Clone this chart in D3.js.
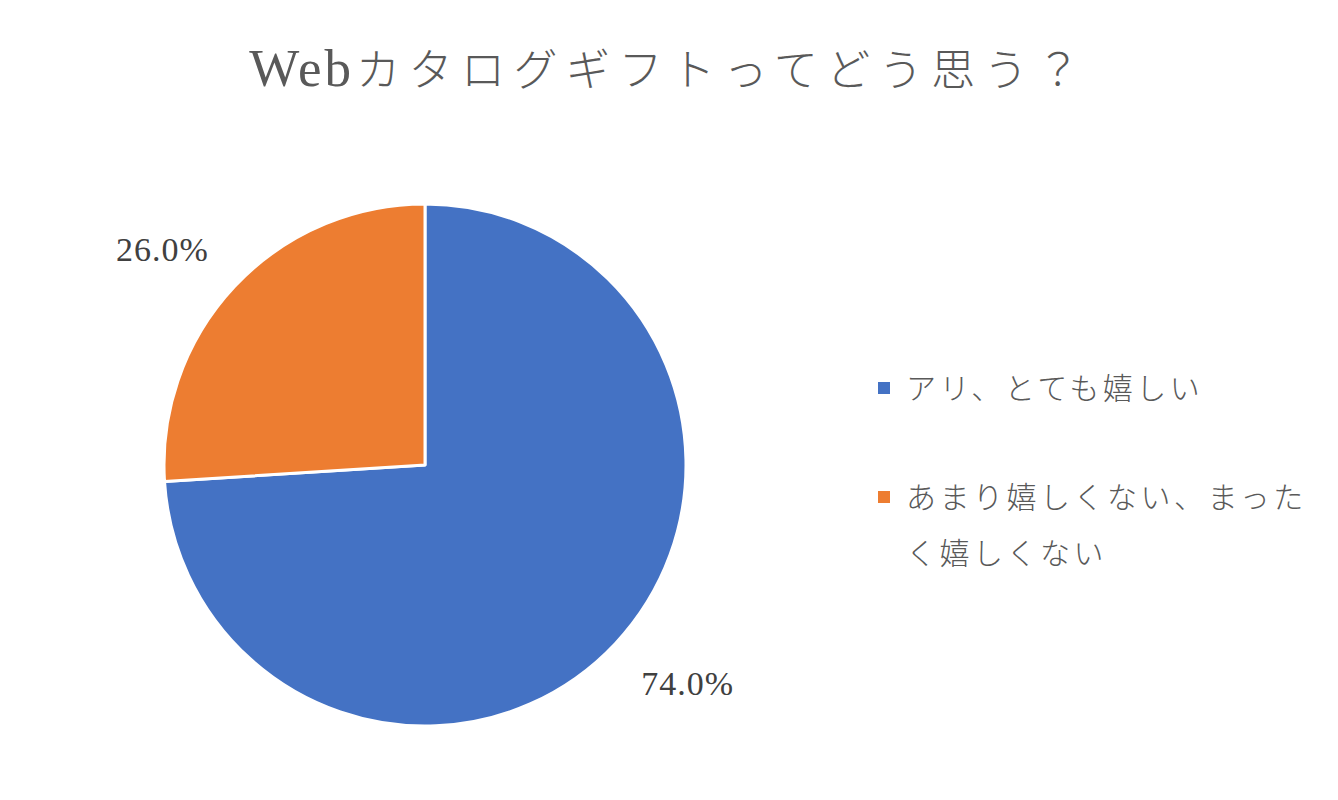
<!DOCTYPE html>
<html><head><meta charset="utf-8">
<script src="https://cdn.jsdelivr.net/npm/d3@7"></script>
<style>body{margin:0;background:#fff}</style>
</head><body>
<svg id="c" width="1338" height="800"></svg>
<script>
const titleLatin = "Web";
const titleJp = "カタログギフトってどう思う？";
const categories = ["アリ、とても嬉しい", "あまり嬉しくない、まったく嬉しくない"];
const legendLines = [["アリ、とても嬉しい"], ["あまり嬉しくない、まった", "く嬉しくない"]];
const values = [74.0, 26.0];
const colors = ["#4472C4", "#ED7D31"];

const svg = d3.select("#c");
svg.append("rect").attr("width",1338).attr("height",800).attr("fill","#fff");
const jp = "'Noto Sans CJK JP', sans-serif";
const serif = "'Liberation Serif', 'DejaVu Serif', serif";

const t = svg.append("text").attr("x",669).attr("y",86).attr("text-anchor","middle").attr("fill","#595959");
t.append("tspan").attr("font-family",serif).attr("font-size",53).attr("letter-spacing",3).text(titleLatin);
t.append("tspan").attr("font-family",jp).attr("font-size",44).attr("font-weight",300)
  .attr("letter-spacing",8.5).attr("dx",2).text(titleJp);

const cx = 425, cy = 465, r = 261;
const pie = d3.pie().sort(null).value(d=>d)(values);
const arc = d3.arc().innerRadius(0).outerRadius(r);
const g = svg.append("g").attr("transform",`translate(${cx},${cy})`);
g.selectAll("path").data(pie).join("path")
  .attr("d",arc).attr("fill",(d,i)=>colors[i])
  .attr("stroke","#fff").attr("stroke-width",3).attr("stroke-linejoin","round");

const labelArc = d3.arc().innerRadius(r+34).outerRadius(r+34);
const boxW = 95, boxH = 30;
g.selectAll("text.lbl").data(pie).join("text").attr("class","lbl")
  .attr("x",d=>{const c=labelArc.centroid(d);return c[0]+Math.sign(c[0])*boxW/2;})
  .attr("y",d=>{const c=labelArc.centroid(d);return c[1]+Math.sign(c[1])*boxH/2;})
  .attr("text-anchor","middle").attr("dy","0.38em")
  .attr("font-family",serif).attr("font-size",34).attr("letter-spacing",1).attr("fill","#404040")
  .text(d=>d.value.toFixed(1)+"%");

const lg = svg.append("g");
const rowY = [388, 497];
categories.forEach((c,i)=>{
  lg.append("rect").attr("x",878).attr("y",rowY[i]-6).attr("width",12).attr("height",12).attr("fill",colors[i]);
  legendLines[i].forEach((ln,j)=>{
    lg.append("text").attr("x",906).attr("y",rowY[i]+11+j*56)
      .attr("font-family",jp).attr("font-size",30).attr("font-weight",300)
      .attr("letter-spacing",3.5).attr("fill","#595959").text(ln);
  });
});
</script>
</body></html>
